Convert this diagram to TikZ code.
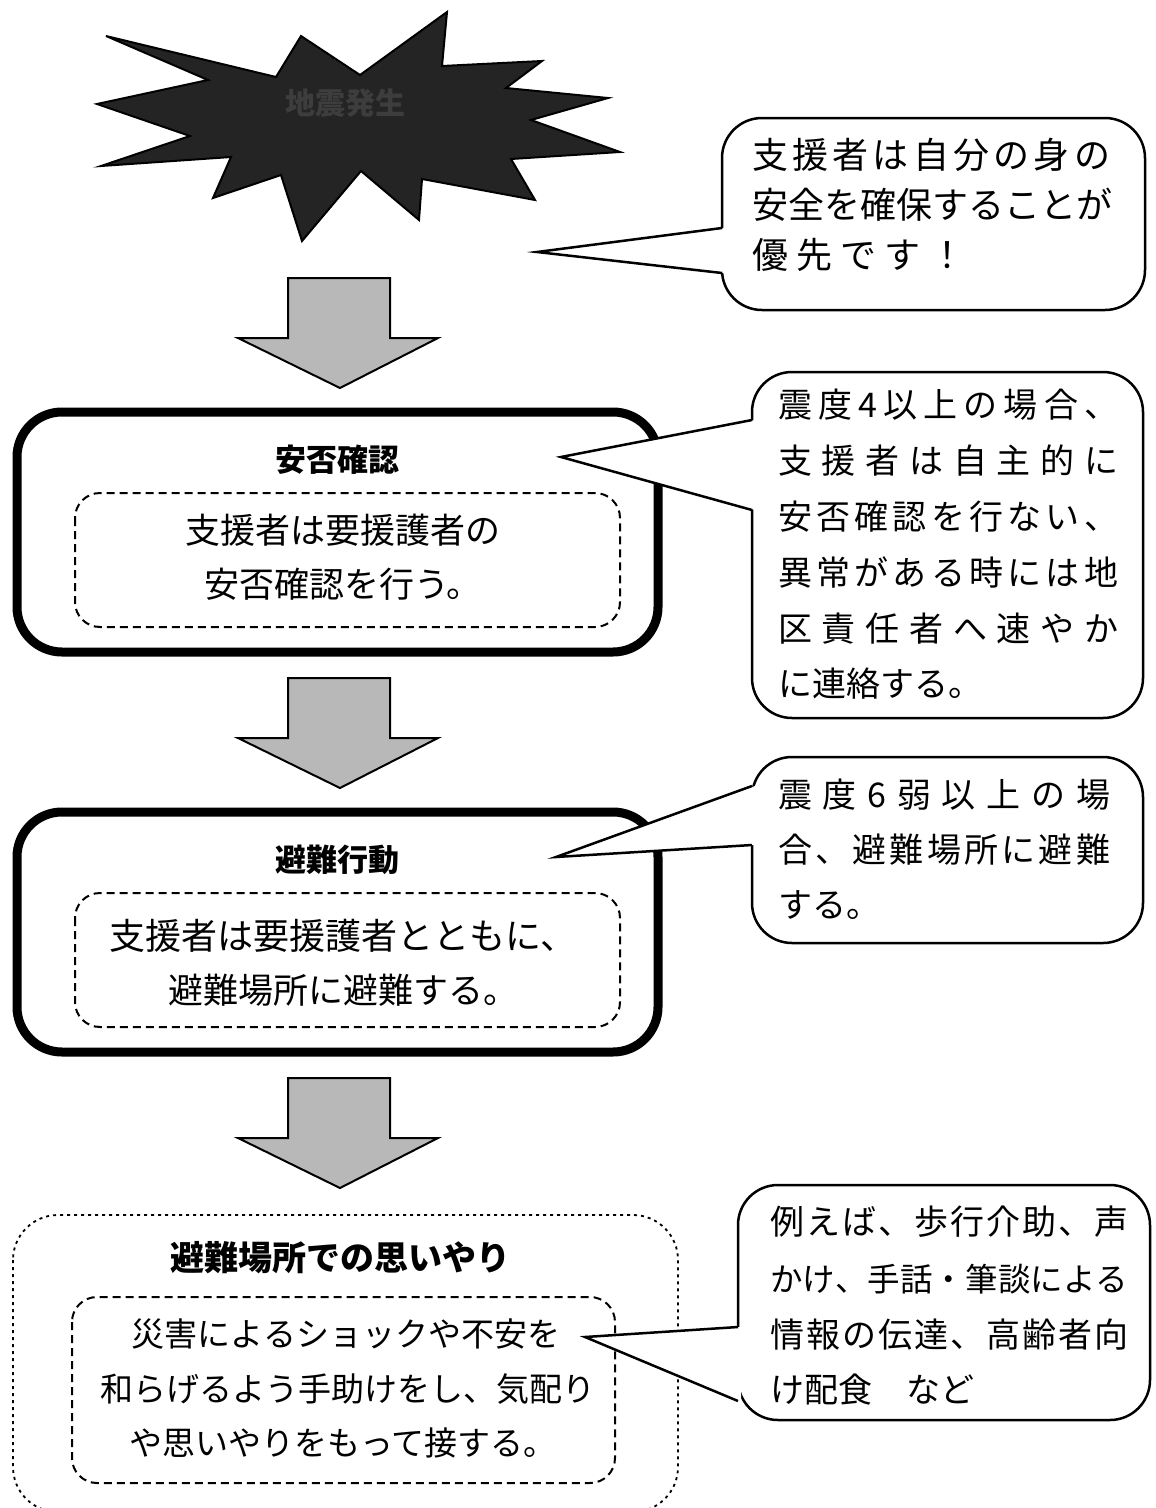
\documentclass[tikz,border=0pt]{standalone}
\usepackage{fontspec}
\newfontfamily\jp{Noto Sans CJK JP}
\def\jl#1#2{\makebox[#1][s]{\jlA#2\relax}}
\def\jlA#1{#1\jlB}
\def\jlB#1{\ifx\relax#1\else\hfill#1\expandafter\jlB\fi}
\tikzset{
  bigbox/.style={draw=black, line width=9pt, rounded corners=45pt},
  innerbox/.style={draw=black, line width=2pt, dash pattern=on 8pt off 5pt, rounded corners=25pt},
  dotbox/.style={draw=black, line width=1.8pt, dash pattern=on 3pt off 4pt, rounded corners=45pt},
  callbox/.style={draw=black, fill=white, line width=2.5pt, rounded corners=40pt},
  callline/.style={draw=black, line width=2.5pt, line join=miter},
  downarrow/.style={draw=black, line width=2pt, fill=black!28, line join=miter},
  title/.style={inner sep=0pt, font=\jp\bfseries\fontsize{31}{34}\selectfont},
  body/.style={inner sep=0pt, font=\jp\fontsize{35}{40}\selectfont},
  ctext/.style={inner sep=0pt, anchor=west, font=\jp\fontsize{34}{40}\selectfont},
}
\begin{document}
\begin{tikzpicture}[x=1pt,y=-1pt]
\useasboundingbox (0,0) rectangle (1156,1508);
\fill[white] (0,0) rectangle (1156,1508);

% starburst
\filldraw[fill=black!86, draw=black, line width=2pt, line join=miter]
 (106,36) -- (276,77) -- (301,36) -- (360,75) -- (447,12) -- (442,66)
 -- (542,61) -- (506,88) -- (608,98) -- (531,120) -- (620,152) -- (511,159)
 -- (535,200) -- (422,179) -- (419,220) -- (361,171) -- (302,241) -- (281,175)
 -- (213,198) -- (231,157) -- (101,166) -- (190,136) -- (97,104) -- (208,80) -- cycle;
\node[inner sep=0pt, text=black!76, font=\jp\bfseries\fontsize{30}{34}\selectfont] (quake) at (345,103) {地震発生};

% arrows
\foreach \t/\n in {278/a1,678/a2,1078/a3}{
  \filldraw[downarrow] (288,\t) -- (390,\t) -- (390,\t+60) -- (438,\t+60)
    -- (340,\t+110) -- (238,\t+60) -- (288,\t+60) -- cycle;
}

% box 1
\draw[bigbox] (17,412) rectangle (658,652);
\node[title] (t1) at (337,460) {安否確認};
\draw[innerbox] (75,493) rectangle (620,627);
\node[body] (b1a) at (343,530) {支援者は要援護者の};
\node[body] (b1b) at (343,584) {安否確認を行う。};

% box 2
\draw[bigbox] (17,812) rectangle (658,1052);
\node[title] (t2) at (337,860) {避難行動};
\draw[innerbox] (75,893) rectangle (620,1027);
\node[body] (b2a) at (343,936) {\fontsize{36}{40}\selectfont 支援者は要援護者とともに、};
\node[body] (b2b) at (343,990) {避難場所に避難する。};

% box 4
\draw[dotbox] (13,1215) rectangle (678,1512);
\node[title, font=\jp\bfseries\fontsize{34}{38}\selectfont] (t4) at (340,1258) {避難場所での思いやり};
\draw[innerbox] (72,1297) rectangle (615,1483);
\node[body, font=\jp\fontsize{33}{38}\selectfont] (b4a) at (346,1334) {災害によるショックや不安を};
\node[body, font=\jp\fontsize{33}{38}\selectfont] (b4b) at (348,1389) {和らげるよう手助けをし、気配り};
\node[body, font=\jp\fontsize{33}{38}\selectfont] (b4c) at (343,1443) {や思いやりをもって接する。};

% callout 1
\filldraw[callbox] (722,118) rectangle (1145,310);
\fill[white] (725,228) -- (537,252) -- (725,273) -- cycle;
\draw[callline] (722,228) -- (537,252) -- (722,273);
\node[ctext, font=\jp\fontsize{36}{40}\selectfont] (c1a) at (752,155) {\jl{358pt}{支援者は自分の身の}};
\node[ctext, font=\jp\fontsize{36}{40}\selectfont] (c1b) at (752,205) {\jl{360pt}{安全を確保することが}};
\node[ctext, font=\jp\fontsize{36}{40}\selectfont] (c1c) at (752,255) {\jl{213pt}{優先です！}};

% callout 2
\filldraw[callbox] (752,372) rectangle (1143,718);
\fill[white] (755,420) -- (561,457) -- (755,510) -- cycle;
\draw[callline] (752,420) -- (561,457) -- (752,510);
\node[ctext] (c2a) at (778,405) {\jl{340pt}{震度4以上の場合、}};
\node[ctext] (c2b) at (778,461) {\jl{340pt}{支援者は自主的に}};
\node[ctext] (c2c) at (778,517) {\jl{340pt}{安否確認を行ない、}};
\node[ctext] (c2d) at (778,573) {\jl{340pt}{異常がある時には地}};
\node[ctext] (c2e) at (778,629) {\jl{340pt}{区責任者へ速やか}};
\node[ctext] (c2f) at (778,684) {に連絡する。};

% callout 3
\filldraw[callbox] (752,757) rectangle (1143,943);
\fill[white] (755,786) -- (556,857) -- (755,845) -- cycle;
\draw[callline] (752,786) -- (556,857) -- (752,845);
\node[ctext] (c3a) at (778,795) {\jl{332pt}{震度6弱以上の場}};
\node[ctext] (c3b) at (778,850) {\jl{332pt}{合、避難場所に避難}};
\node[ctext] (c3c) at (778,905) {する。};

% callout 4
\filldraw[callbox] (738,1185) rectangle (1150,1420);
\fill[white] (741,1327) -- (585,1337) -- (741,1401) -- cycle;
\draw[callline] (738,1327) -- (585,1337) -- (738,1401);
\node[ctext] (c4a) at (770,1222) {\jl{358pt}{例えば、歩行介助、声}};
\node[ctext, font=\jp\fontsize{32.5}{40}\selectfont] (c4b) at (770,1279) {\jl{358pt}{かけ、手話・筆談による}};
\node[ctext] (c4c) at (770,1335) {\jl{358pt}{情報の伝達、高齢者向}};
\node[ctext] (c4d) at (770,1390) {け配食　など};
\end{tikzpicture}
\end{document}
